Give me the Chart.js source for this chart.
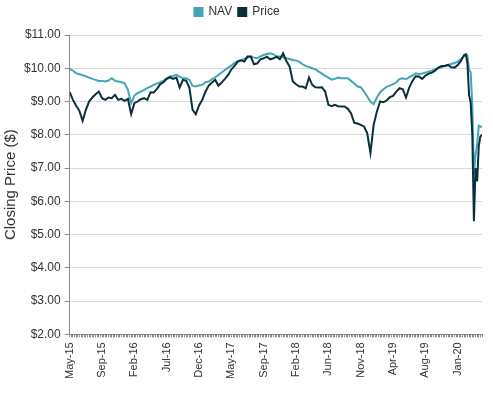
<!DOCTYPE html>
<html>
<head>
<meta charset="utf-8">
<script src="https://cdn.jsdelivr.net/npm/chart.js@4"></script>
<style>
  body { margin: 0; background: #fff; }
  #wrap { width: 493px; height: 394px; }
</style>
</head>
<body>
<div id="wrap"><canvas id="navChart"></canvas></div>
<script>
// week index of each reading (weekly data, read every 2 weeks, weekly at the end)
var weeks = [];
for (var w = 0; w <= 242; w += 2) weeks.push(w);
weeks = weeks.concat([243, 244, 245, 246, 247, 248, 249, 250, 251, 252, 253, 254, 255]);

// tick labels, one every 20 weeks
var tickLabels = ['May-15', 'Sep-15', 'Feb-16', 'Jul-16', 'Dec-16', 'May-17', 'Sep-17',
                  'Feb-18', 'Jun-18', 'Nov-18', 'Apr-19', 'Aug-19', 'Jan-20'];

var navValues = [
  9.98, 9.93, 9.85, 9.82, 9.79, 9.76, 9.72, 9.68, 9.65, 9.62,
  9.62, 9.60, 9.63, 9.70, 9.62, 9.60, 9.58, 9.55, 9.35, 8.95,
  9.18, 9.25, 9.30, 9.35, 9.40, 9.45, 9.50, 9.54, 9.58, 9.63,
  9.70, 9.75, 9.77, 9.80, 9.75, 9.70, 9.70, 9.65, 9.47, 9.45,
  9.48, 9.50, 9.58, 9.60, 9.67, 9.73, 9.80, 9.87, 9.95, 10.02,
  10.08, 10.16, 10.22, 10.24, 10.28, 10.33, 10.35, 10.32, 10.30, 10.36,
  10.40, 10.43, 10.45, 10.42, 10.35, 10.35, 10.33, 10.30, 10.28, 10.25,
  10.23, 10.20, 10.12, 10.07, 10.04, 10.00, 9.97, 9.90, 9.84, 9.77,
  9.72, 9.66, 9.68, 9.72, 9.70, 9.70, 9.70, 9.62, 9.54, 9.45,
  9.43, 9.30, 9.15, 9.00, 8.92, 9.12, 9.28, 9.37, 9.44, 9.48,
  9.52, 9.58, 9.68, 9.70, 9.67, 9.73, 9.78, 9.85, 9.83, 9.84,
  9.87, 9.90, 9.93, 9.97, 10.00, 10.03, 10.07, 10.10, 10.13, 10.16,
  10.20, 10.28,
  10.32, 10.37, 10.42, 10.38, 9.95, 9.88, 8.90, 6.80, 7.40, 7.70, 8.27, 8.25, 8.22
];

var priceValues = [
  9.28, 9.05, 8.87, 8.72, 8.42, 8.75, 9.00, 9.12, 9.22, 9.30,
  9.10, 9.05, 9.12, 9.10, 9.20, 9.05, 9.08, 9.02, 9.08, 8.62,
  8.95, 9.00, 9.07, 9.10, 9.05, 9.28, 9.27, 9.38, 9.52, 9.58,
  9.68, 9.73, 9.68, 9.72, 9.42, 9.65, 9.63, 9.42, 8.75, 8.62,
  8.88, 9.05, 9.30, 9.48, 9.57, 9.65, 9.48, 9.57, 9.68, 9.80,
  9.97, 10.07, 10.20, 10.24, 10.20, 10.35, 10.35, 10.12, 10.15, 10.27,
  10.30, 10.35, 10.27, 10.30, 10.35, 10.27, 10.45, 10.22, 10.05, 9.60,
  9.52, 9.45, 9.45, 9.40, 9.72, 9.50, 9.43, 9.42, 9.43, 9.30,
  8.90, 8.86, 8.90, 8.86, 8.85, 8.85, 8.78, 8.65, 8.36, 8.34,
  8.30, 8.25, 8.05, 7.45, 8.30, 8.70, 9.00, 8.98, 9.03, 9.13,
  9.17, 9.30, 9.40, 9.37, 9.12, 9.42, 9.62, 9.76, 9.75, 9.68,
  9.78, 9.84, 9.87, 9.93, 10.02, 10.07, 10.07, 10.10, 10.03, 10.02,
  10.10, 10.22,
  10.32, 10.40, 10.42, 10.15, 9.20, 8.97, 8.00, 5.40, 7.00, 6.60, 7.65, 7.95, 8.00
];

function toPoints(values) {
  return values.map(function (v, i) { return { x: weeks[i], y: v }; });
}

// a bit more room under the legend, and nudge it left a little
var legendGap = {
  id: 'legendGap',
  beforeInit: function (chart) {
    var fit = chart.legend.fit;
    chart.legend.fit = function () {
      fit.bind(chart.legend)();
      this.height += 7;
    };
  },
  afterLayout: function (chart) {
    chart.legend.right -= 10;
  }
};

var ctx = document.getElementById('navChart').getContext('2d');
var navChart = new Chart(ctx, {
  type: 'line',
  data: {
    datasets: [{
      label: 'NAV',
      data: toPoints(navValues),
      borderColor: '#3fa7b8',
      backgroundColor: '#3fa7b8',
      borderWidth: 2,
      pointRadius: 0,
      order: 1
    }, {
      label: 'Price',
      data: toPoints(priceValues),
      borderColor: '#0b3039',
      backgroundColor: '#0b3039',
      borderWidth: 2,
      pointRadius: 0,
      order: 0
    }]
  },
  options: {
    responsive: true,
    maintainAspectRatio: false,
    animation: false,
    layout: { padding: { left: 2, right: 11, top: 0, bottom: 10 } },
    plugins: {
      legend: {
        position: 'top',
        labels: {
          boxWidth: 8,
          boxHeight: 8,
          padding: 6,
          color: '#333',
          font: { family: 'Liberation Sans, Arial, sans-serif', size: 12 },
          sort: function (a, b) { return a.datasetIndex - b.datasetIndex; }
        }
      },
      tooltip: { enabled: false }
    },
    scales: {
      x: {
        type: 'linear',
        min: 0,
        max: 255,
        afterBuildTicks: function (scale) {
          var t = [];
          for (var i = 0; i <= 255; i++) t.push({ value: i });
          scale.ticks = t;
        },
        afterFit: function (scale) {
          scale.paddingRight = 0;
        },
        ticks: {
          autoSkip: false,
          minRotation: 90,
          maxRotation: 90,
          color: '#333',
          padding: 5,
          font: { family: 'Liberation Sans, Arial, sans-serif', size: 11 },
          callback: function (value) {
            return value % 20 === 0 ? (tickLabels[value / 20] || '') : '';
          }
        },
        grid: { drawOnChartArea: false, tickLength: 3, color: '#888' },
        border: { color: '#888' }
      },
      y: {
        min: 2,
        max: 11,
        ticks: {
          stepSize: 1,
          color: '#333',
          padding: 4,
          font: { family: 'Liberation Sans, Arial, sans-serif', size: 12 },
          callback: function (value) { return '$' + value.toFixed(2); }
        },
        grid: { color: '#d9d9d9', tickLength: 5, tickColor: '#888' },
        border: { color: '#888' },
        title: {
          display: true,
          text: 'Closing Price ($)',
          color: '#333',
          padding: 0,
          font: { family: 'Liberation Sans, Arial, sans-serif', size: 15 }
        }
      }
    }
  },
  plugins: [legendGap]
});
</script>
</body>
</html>
